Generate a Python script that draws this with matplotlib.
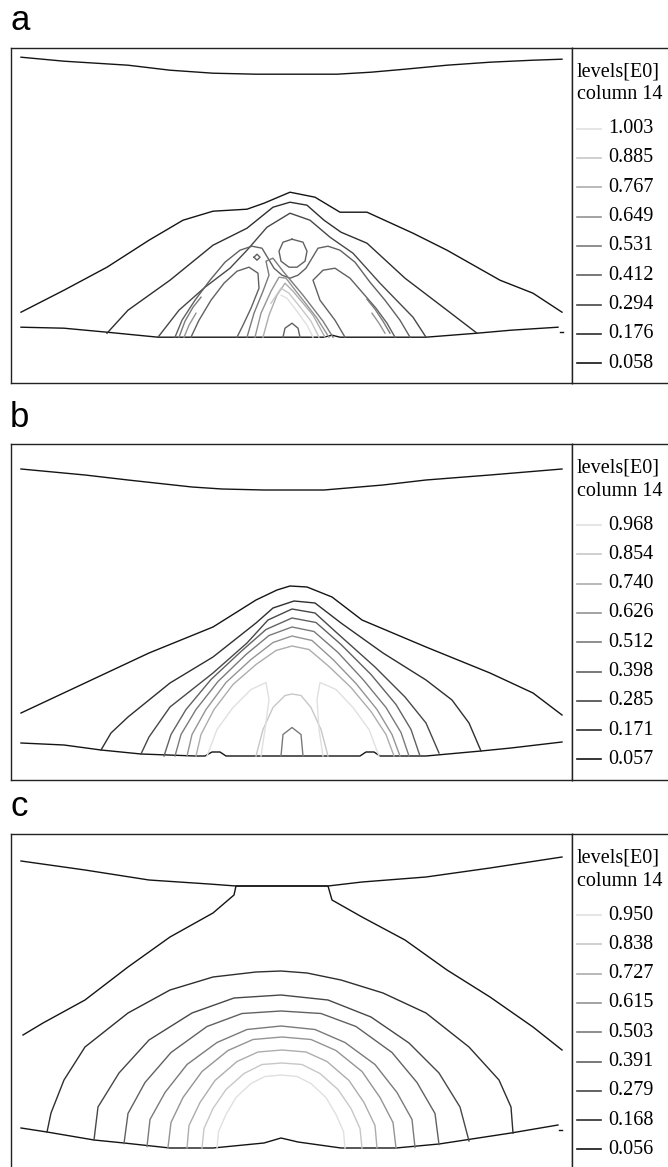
import matplotlib
matplotlib.use("Agg")
import matplotlib.pyplot as plt

# contour levels (energy density, units of E0) for the three runs
levels_a = [0.058, 0.176, 0.294, 0.412, 0.531, 0.649, 0.767, 0.885, 1.003]
levels_b = [0.057, 0.171, 0.285, 0.398, 0.512, 0.626, 0.740, 0.854, 0.968]
levels_c = [0.056, 0.168, 0.279, 0.391, 0.503, 0.615, 0.727, 0.838, 0.950]

# iso-lines, each one as (level index, [(r, z), ...])
lines_a = [
    (0, [(10, 326), (53, 322), (117, 318), (159, 313), (202, 310), (245, 309), (287, 309),
         (326, 309), (360, 311), (394, 314), (436, 318), (479, 321), (522, 323), (551, 324)]),
    (0, [(10, 56), (53, 55), (96, 51), (147, 46), (202, 46), (266, 46), (313, 46), (321, 48),
         (329, 46), (373, 46), (415, 46), (466, 50), (500, 53), (547, 56)]),
    (0, [(549, 51), (552, 51)]),
    (0, [(10, 71), (53, 93), (96, 116), (138, 143), (172, 163), (202, 172), (236, 174),
         (253, 180), (279, 191), (304, 186), (329, 171), (356, 171), (402, 150), (436, 133),
         (489, 103), (522, 90), (551, 71)]),
    (1, [(96, 50), (117, 73), (159, 103), (202, 138), (236, 155), (262, 176), (279, 181),
         (296, 178), (313, 163), (330, 151), (356, 140), (394, 105), (436, 73), (466, 50)]),
    (2, [(147, 46), (168, 73), (194, 96), (219, 115), (236, 133), (256, 156), (279, 170),
         (299, 163), (319, 146), (342, 130), (369, 100), (402, 66), (415, 46)]),
    (3, [(164, 46), (171, 63), (184, 83), (199, 103), (214, 121), (229, 133), (241, 137),
         (251, 135), (257, 125), (263, 115), (271, 108), (279, 105), (287, 108), (295, 115),
         (301, 125), (307, 135), (317, 137), (329, 133), (344, 121), (359, 101), (374, 83),
         (389, 63), (399, 46)]),
    (3, [(281, 144), (292, 141), (296, 132), (294, 122), (286, 116), (278, 116), (270, 122),
         (268, 132), (272, 141), (281, 144)]),
    (3, [(180, 46), (188, 63), (200, 83), (213, 100), (226, 112), (238, 116), (247, 110),
         (248, 95), (240, 75), (232, 58), (226, 46)]),
    (3, [(334, 46), (324, 63), (309, 83), (302, 103), (312, 113), (324, 115), (339, 105),
         (352, 90), (365, 75), (376, 60), (384, 46)]),
    (3, [(272, 46), (274, 55), (281, 60), (287, 55), (289, 46)]),
    (3, [(243, 126), (246, 129), (249, 126), (246, 123), (243, 126)]),
    (4, [(236, 46), (243, 70), (252, 92), (258, 108), (255, 122), (262, 125), (272, 112),
         (282, 100), (292, 88), (302, 75), (312, 62), (322, 46)]),
    (4, [(168, 46), (174, 62), (182, 76), (190, 86)]),
    (4, [(379, 50), (372, 62), (364, 74), (356, 84)]),
    (5, [(244, 46), (250, 70), (260, 92), (268, 106), (275, 105), (285, 92), (296, 78),
         (306, 65), (318, 46)]),
    (5, [(173, 46), (178, 58), (185, 70)]),
    (5, [(374, 50), (368, 60), (361, 70)]),
    (6, [(252, 46), (258, 68), (266, 88), (274, 100), (282, 92), (292, 80), (302, 68), (314, 46)]),
    (7, [(260, 80), (270, 95), (278, 90), (290, 75), (300, 62), (308, 46)]),
    (8, [(270, 88), (276, 85), (286, 72), (296, 58), (302, 46)]),
]

lines_b = [
    (0, [(10, 310.5), (74, 304.5), (117, 299.5), (181, 292.5), (211, 290.5), (253, 289.5),
         (313, 289.5), (372, 294.5), (415, 299.5), (479, 304.5), (551, 310.5)]),
    (0, [(10, 66.5), (74, 96.5), (138, 126.5), (202, 152.5), (245, 179.5), (266, 189.5),
         (279, 193.5), (296, 192.5), (321, 182.5), (351, 159.5), (415, 132.5), (479, 106.5),
         (522, 86.5), (551, 64.5)]),
    (0, [(10, 36.5), (53, 34.5), (90, 29.5), (130, 25.5), (184, 23.5), (194, 23.5), (201, 27.5),
         (209, 27.5), (215, 23.5), (289, 23.5), (349, 23.5), (355, 27.5), (363, 27.5),
         (369, 23.5), (415, 23.5), (470, 28.5), (500, 31.5), (551, 37.5)]),
    (1, [(90, 29.5), (100, 46.5), (117, 62.5), (159, 96.5), (202, 122.5), (245, 156.5),
         (262, 171.5), (283, 178.5), (304, 176.5), (330, 156.5), (372, 126.5), (415, 99.5),
         (441, 79.5), (458, 56.5), (470, 28.5)]),
    (2, [(130, 25.5), (138, 42.5), (159, 72.5), (202, 106.5), (236, 136.5), (257, 159.5),
         (281, 170.5), (304, 166.5), (326, 146.5), (364, 112.5), (394, 82.5), (415, 56.5),
         (428, 26.5)]),
    (3, [(153, 23.5), (160, 45), (175, 70), (200, 100), (230, 128), (255, 150), (281, 161.5),
         (305, 157), (330, 135), (360, 105), (385, 75), (400, 50), (409, 23.5)]),
    (4, [(164, 23.5), (170, 45), (185, 70), (207, 98), (235, 125), (258, 144), (281, 152.5),
         (303, 148), (327, 127), (352, 100), (375, 72), (390, 47), (398, 23.5)]),
    (5, [(176, 23.5), (181, 45), (195, 70), (215, 97), (240, 120), (262, 137), (281, 143.5),
         (301, 139), (322, 120), (345, 96), (366, 70), (381, 45), (389, 23.5)]),
    (6, [(185, 23.5), (190, 45), (203, 70), (222, 95), (245, 115), (265, 129), (281, 133.5),
         (298, 130), (318, 113), (340, 92), (360, 68), (375, 45), (383, 23.5)]),
    (7, [(245, 23.5), (252, 50), (262, 72), (274, 84), (281, 85.5), (290, 84), (300, 72),
         (310, 50), (317, 23.5)]),
    (8, [(196, 23.5), (206, 50), (222, 72), (240, 90), (255, 97), (258, 80), (254, 50), (250, 23.5)]),
    (8, [(312, 23.5), (308, 50), (306, 80), (309, 97), (325, 90), (342, 72), (358, 50), (368, 23.5)]),
    (4, [(270, 23.5), (272, 45), (281, 52), (290, 45), (292, 23.5)]),
]

lines_c = [
    (0, [(10, 308.5), (74, 299.5), (138, 289.5), (198, 285.5), (225, 283.5), (271, 283.5),
         (317, 283.5), (351, 287.5), (415, 292.5), (479, 301.5), (551, 312.5)]),
    (0, [(12, 134.5), (32, 146.5), (74, 169.5), (117, 202.5), (159, 232.5), (202, 256.5),
         (223, 274.5), (225, 283.5), (317, 283.5), (321, 269.5), (351, 252.5), (394, 229.5),
         (436, 199.5), (479, 172.5), (522, 142.5), (551, 119.5)]),
    (0, [(10, 41.5), (36, 37.5), (83, 29.5), (113, 26.5), (159, 21.5), (202, 21.5), (253, 26.5),
         (270, 31.5), (287, 27.5), (330, 21.5), (385, 21.5), (428, 25.5), (500, 36.5), (547, 44.5)]),
    (0, [(548, 39.5), (551, 39.5)]),
    (1, [(36, 37.5), (40, 56.5), (53, 89.5), (74, 122.5), (117, 156.5), (159, 179.5),
         (202, 192.5), (245, 197.5), (270, 198.5), (296, 196.5), (330, 189.5), (372, 176.5),
         (415, 156.5), (458, 122.5), (488, 89.5), (500, 62.5), (502, 36.5)]),
    (2, [(83, 29.5), (87, 62.5), (108, 96.5), (138, 129.5), (181, 156.5), (223, 171.5),
         (270, 174.5), (317, 169.5), (360, 152.5), (398, 126.5), (428, 96.5), (449, 62.5),
         (458, 28.5)]),
    (3, [(113, 26), (117, 56), (134, 87), (160, 117), (196, 143), (231, 156), (270, 158.5),
         (310, 156), (345, 143), (381, 117), (406, 87), (424, 56), (428, 25)]),
    (4, [(136, 23), (139, 50), (154, 77), (176, 105), (206, 127), (236, 140), (270, 143.5),
         (304, 140), (334, 127), (364, 105), (386, 77), (401, 50), (404, 22)]),
    (5, [(157, 22), (160, 47), (172, 72), (191, 98), (217, 119), (242, 130), (271, 132.5),
         (300, 130), (325, 119), (351, 98), (369, 72), (382, 47), (385, 21.5)]),
    (6, [(176, 21.5), (178, 44), (189, 67), (204, 89), (226, 108), (247, 117.5), (271, 119.5),
         (295, 117.5), (316, 108), (338, 89), (353, 67), (364, 44), (366, 21.5)]),
    (7, [(191, 21.5), (193, 41), (202, 61), (215, 80), (233, 96), (251, 105), (271, 106.5),
         (291, 105), (309, 96), (327, 80), (340, 61), (349, 41), (351, 21.5)]),
    (8, [(206, 21.5), (207.5, 38), (215, 55), (225, 72), (240, 86), (254, 93), (270, 94.5),
         (286, 93), (300, 86), (315, 72), (325, 55), (332.5, 38), (334, 21.5)]),
]

panel_tags = ["a", "b", "c"]

# gray ramp: lowest level black, highest almost white
shades = [str(round(0.08 + 0.1 * i, 2)) for i in range(9)]

W, H = 668, 1167
fig = plt.figure(figsize=(W / 100, H / 100), dpi=100)


def px_axes(left, top, width, height):
    return fig.add_axes([left / W, 1 - (top + height) / H, width / W, height / H])


box_left, plot_w, leg_w, box_h = 11, 561, 130, 335.5
box_tops = [47.7, 444, 834]
tag_base = [30, 427, 816]

for tag, top, base, lines, levels in zip(panel_tags, box_tops, tag_base,
                                         [lines_a, lines_b, lines_c],
                                         [levels_a, levels_b, levels_c]):
    ax = px_axes(box_left, top, plot_w, box_h)
    ax.set_xlim(0, plot_w)
    ax.set_ylim(0, box_h)
    ax.set_xticks([])
    ax.set_yticks([])
    for s in ax.spines.values():
        s.set_linewidth(1.0)
        s.set_color("#222222")
    for lev, pts in lines:
        xs = [p[0] for p in pts]
        ys = [p[1] for p in pts]
        ax.plot(xs, ys, color=shades[lev], lw=1.0, solid_joinstyle="round")

    leg = px_axes(box_left + plot_w, top, leg_w, box_h)
    leg.set_xlim(0, leg_w)
    leg.set_ylim(box_h, 0)
    leg.set_xticks([])
    leg.set_yticks([])
    for s in leg.spines.values():
        s.set_linewidth(1.0)
        s.set_color("#222222")
    serif = dict(family="Liberation Serif", fontsize=14.5, va="center", ha="left")
    leg.text(5, 24, "levels[E0]", **serif)
    leg.text(5, 47, "column 14", **serif)
    for k, lv in enumerate(reversed(levels)):
        yk = 81 + 29.3 * k
        leg.plot([5, 29], [yk, yk], color=shades[8 - k], lw=1.2)
        leg.text(36, yk, f"{lv:.3f}", **serif)

    fig.text(10 / W, 1 - base / H, tag, family="Liberation Sans", fontsize=25,
             va="baseline", ha="left")

fig.savefig("out.png", dpi=100)
